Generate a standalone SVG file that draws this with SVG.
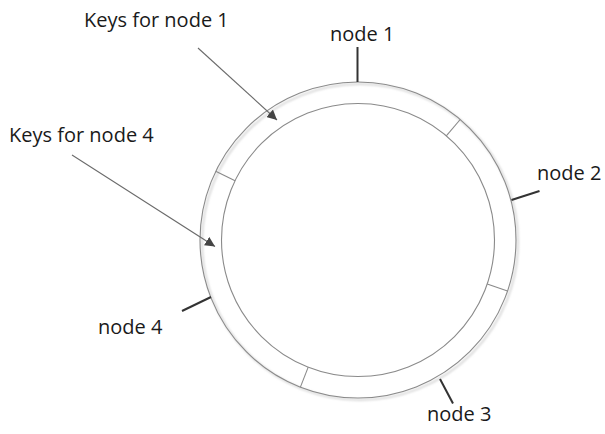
<svg xmlns="http://www.w3.org/2000/svg" width="605" height="434" viewBox="0 0 605 434">
<style>
.lbl{font-family:"Open Sans","Liberation Sans",sans-serif;font-size:20px;fill:#1a1a1a}
.ring{fill:none;stroke:#8a8a8a;stroke-width:1.1}
.div{stroke:#8a8a8a;stroke-width:1.1}
.tick{stroke:#333;stroke-width:2}
.conn{stroke:#6a6a6a;stroke-width:1.1;fill:none;marker-end:url(#ah)}
</style>
<defs>
<marker id="ah" viewBox="0 0 10 10" refX="10" refY="5" markerWidth="10" markerHeight="10" markerUnits="userSpaceOnUse" orient="auto">
<path d="M0,0 L10,5 L0,10 z" fill="#444"/>
</marker>
<filter id="sh" x="-10%" y="-10%" width="120%" height="120%">
<feGaussianBlur stdDeviation="1.2"/>
</filter>
</defs>
<rect width="605" height="434" fill="#fff"/>
<g id="ring">
<circle cx="360" cy="242" r="158" fill="none" stroke="#d8d8d8" stroke-width="2" filter="url(#sh)"/>
<circle cx="358" cy="240" r="158" fill="#fff" class="ring"/>
<circle cx="358" cy="240" r="136.5" class="ring"/>
<line class="div" x1="446.3" y1="135.9" x2="460.2" y2="119.5"/>
<line class="div" x1="235.1" y1="180.7" x2="215.7" y2="171.2"/>
<line class="div" x1="487.2" y1="284" x2="507.5" y2="290.9"/>
<line class="div" x1="308.2" y1="367.1" x2="300.4" y2="387.1"/>
</g>
<g id="node1">
<line class="tick" x1="357.5" y1="47" x2="357.5" y2="82"/>
<text class="lbl" x="330" y="41">node 1</text>
</g>
<g id="node2">
<line class="tick" x1="511.5" y1="200" x2="539.5" y2="191"/>
<text class="lbl" x="537" y="180">node 2</text>
</g>
<g id="node3">
<line class="tick" x1="440" y1="379" x2="453" y2="403.5"/>
<text class="lbl" x="427" y="421">node 3</text>
</g>
<g id="node4">
<line class="tick" x1="182" y1="311" x2="211" y2="297"/>
<text class="lbl" x="98" y="334">node 4</text>
</g>
<g id="keys1">
<text class="lbl" x="84" y="27">Keys for node 1</text>
</g>
<g id="keys4">
<text class="lbl" x="9" y="141.5">Keys for node 4</text>
</g>
<g id="connectors">
<line class="conn" x1="198" y1="48" x2="277" y2="120"/>
<line class="conn" x1="72" y1="155" x2="215" y2="246.5"/>
</g>
</svg>
